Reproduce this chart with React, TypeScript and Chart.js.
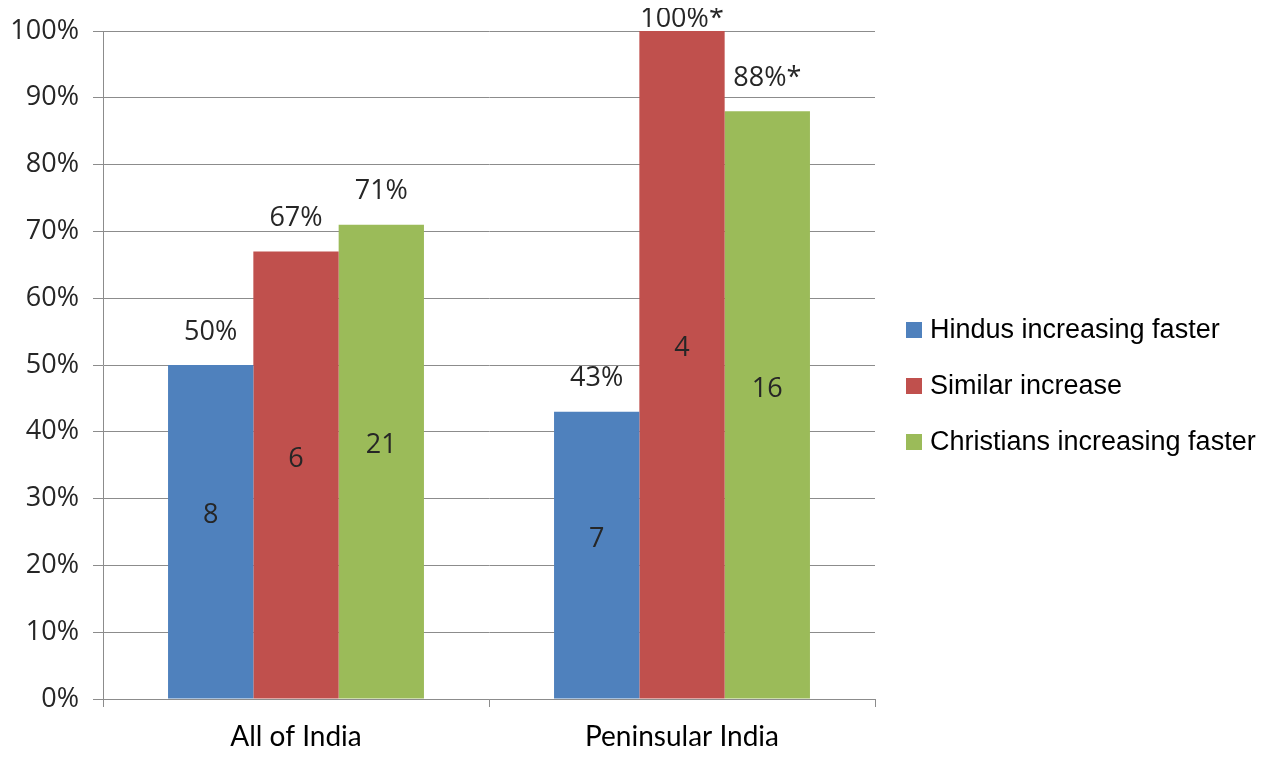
import { useEffect, useRef } from "react";
import { Chart, registerables } from "chart.js";

Chart.register(...registerables);

const categories = ["All of India", "Peninsular India"];
const seriesNames = ["Hindus increasing faster", "Similar increase", "Christians increasing faster"];
const seriesColors = ["#4F81BD", "#C0504D", "#9BBB59"];

const hindusPct = [50, 43];
const similarPct = [67, 100];
const christiansPct = [71, 88];

const hindusPctLabels = ["50%", "43%"];
const similarPctLabels = ["67%", "100%*"];
const christiansPctLabels = ["71%", "88%*"];

const hindusCount = [8, 7];
const similarCount = [6, 4];
const christiansCount = [21, 16];

const yTickValues = [0, 10, 20, 30, 40, 50, 60, 70, 80, 90, 100];

const GRID = "#8c8c8c";
const TEXT = "#262626";
const NUM_FONT = "'Open Sans', 'DejaVu Sans', sans-serif";

const labelPlugin = {
  id: "barLabels",
  afterDatasetsDraw(chart: any) {
    const ctx = chart.ctx;
    ctx.save();
    ctx.fillStyle = TEXT;
    ctx.font = `27px ${NUM_FONT}`;
    ctx.textAlign = "center";
    ctx.textBaseline = "middle";
    const top = chart.chartArea.top;
    chart.data.datasets.forEach((ds: any, i: number) => {
      const meta = chart.getDatasetMeta(i);
      meta.data.forEach((bar: any, j: number) => {
        const p = bar.getProps(["x", "y", "base"], true);
        ctx.fillText(ds.pctLabels[j], p.x, Math.max(p.y - 33, top - 12));
        ctx.fillText(String(ds.counts[j]), p.x, (p.y + p.base) / 2 - 16);
      });
    });
    ctx.restore();
  },
};

const legendPlugin = {
  id: "customLegend",
  afterDraw(chart: any) {
    const ctx = chart.ctx;
    ctx.save();
    ctx.font = "27px 'Liberation Sans', Arial, sans-serif";
    ctx.textBaseline = "middle";
    ctx.textAlign = "left";
    const x0 = chart.chartArea.right + 31;
    const yc = 378;
    const gap = 56;
    chart.data.datasets.forEach((ds: any, i: number) => {
      const y = yc + (i - 1) * gap;
      ctx.fillStyle = ds.backgroundColor;
      ctx.fillRect(x0, y - 8, 16, 16);
      ctx.fillStyle = "#000";
      ctx.fillText(ds.label, x0 + 24, y + 1);
    });
    ctx.restore();
  },
};

export default function App() {
  const ref = useRef<HTMLCanvasElement | null>(null);
  useEffect(() => {
    if (!ref.current) return;
    const pcts = [hindusPct, similarPct, christiansPct];
    const pctLabels = [hindusPctLabels, similarPctLabels, christiansPctLabels];
    const counts = [hindusCount, similarCount, christiansCount];
    const chart = new Chart(ref.current, {
      type: "bar",
      data: {
        labels: categories,
        datasets: seriesNames.map((name, i) => ({
          label: name,
          data: pcts[i],
          backgroundColor: seriesColors[i],
          borderWidth: 0,
          categoryPercentage: 0.663,
          barPercentage: 1,
          pctLabels: pctLabels[i],
          counts: counts[i],
        })) as any,
      },
      options: {
        animation: false,
        responsive: true,
        maintainAspectRatio: false,
        layout: { padding: { top: 23, right: 389, left: 0, bottom: 0 } },
        plugins: {
          legend: { display: false },
          tooltip: { enabled: false },
        },
        scales: {
          x: {
            grid: {
              drawOnChartArea: false,
              drawTicks: true,
              tickLength: 8,
              color: GRID,
            },
            border: { color: GRID },
            ticks: {
              color: "#000",
              padding: 13,
              font: { family: "Lato, 'Liberation Sans', sans-serif", size: 28 },
            },
            afterFit(scale: any) {
              scale.height = 50;
            },
          },
          y: {
            min: 0,
            max: 100,
            afterBuildTicks(scale: any) {
              scale.ticks = yTickValues.map((v) => ({ value: v }));
            },
            grid: { color: GRID, tickLength: 10, lineWidth: 1 },
            border: { color: GRID },
            ticks: {
              color: TEXT,
              padding: 14,
              font: { family: NUM_FONT, size: 27, lineHeight: 0.5 },
              callback: (v: any) => `${v}%`,
            },
            afterFit(scale: any) {
              scale.width = 95;
            },
          },
        },
      },
      plugins: [labelPlugin, legendPlugin],
    });
    return () => chart.destroy();
  }, []);
  return (
    <div style={{ position: "relative", width: "1256px", height: "741px" }}>
      <canvas ref={ref} />
    </div>
  );
}
